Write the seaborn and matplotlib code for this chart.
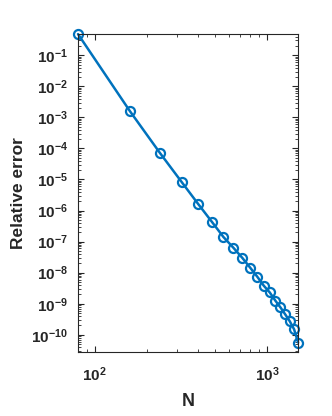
import numpy as np
import pandas as pd
import matplotlib
matplotlib.use("Agg")
import matplotlib.pyplot as plt
import seaborn as sns
from matplotlib.ticker import LogLocator, FuncFormatter, NullFormatter

# grid sizes and measured relative errors
N = [80, 160, 240, 320, 400, 480, 560, 640, 720, 800,
     880, 960, 1040, 1120, 1200, 1280, 1360, 1440, 1520]
rel_err = [4.8e-1, 1.6e-3, 7.0e-5, 8.3e-6, 1.6e-6, 4.3e-7, 1.4e-7, 6.3e-8, 3.0e-8, 1.45e-8,
           7.4e-9, 3.8e-9, 2.3e-9, 1.26e-9, 7.6e-10, 4.5e-10, 2.7e-10, 1.5e-10, 5.6e-11]

df = pd.DataFrame({"N": N, "err": rel_err})

sns.set_style("ticks")
plt.rcParams['font.family'] = ['Liberation Sans', 'DejaVu Sans']
plt.rcParams['mathtext.fontset'] = 'custom'
plt.rcParams['mathtext.rm'] = 'Liberation Sans:bold'
plt.rcParams['mathtext.bf'] = 'Liberation Sans:bold'
plt.rcParams['mathtext.default'] = 'bf'

fig = plt.figure(figsize=(3.32, 4.16), dpi=100)
ax = fig.add_axes([0.235, 0.154, 0.663, 0.764])

sns.lineplot(data=df, x="N", y="err", ax=ax, color="#0072BD", linewidth=1.8,
             marker="o", markersize=6.5, markerfacecolor="none",
             markeredgecolor="#0072BD", markeredgewidth=1.6, clip_on=False)

ax.set_xscale("log")
ax.set_yscale("log")
ax.set_xlim(80, 1520)
ax.set_ylim(2.8e-11, 0.48)


def pow10(v, pos):
    e = int(np.round(np.log10(v)))
    return r"$\mathbf{10^{%d}}$" % e


ax.xaxis.set_major_locator(LogLocator(base=10, numticks=10))
ax.yaxis.set_major_locator(LogLocator(base=10, numticks=20))
ax.xaxis.set_minor_locator(LogLocator(base=10, subs=np.arange(2, 10), numticks=20))
ax.yaxis.set_minor_locator(LogLocator(base=10, subs=np.arange(2, 10), numticks=40))
ax.xaxis.set_major_formatter(FuncFormatter(pow10))
ax.yaxis.set_major_formatter(FuncFormatter(pow10))
ax.xaxis.set_minor_formatter(NullFormatter())
ax.yaxis.set_minor_formatter(NullFormatter())

for s in ax.spines.values():
    s.set_color("#262626")
    s.set_linewidth(0.8)
ax.tick_params(which="both", direction="in", top=True, right=True, color="#262626")
ax.tick_params(which="major", length=4, width=0.8, labelsize=11, labelcolor="#262626", pad=7)
ax.tick_params(which="minor", length=2, width=0.6)
ax.tick_params(axis="x", which="major", pad=10)

ax.set_xlabel("N", fontsize=13, fontweight="bold", color="#262626", labelpad=6)
ax.set_ylabel("Relative error", fontsize=12.5, fontweight="bold", color="#262626", labelpad=4)

fig.savefig("out.png", dpi=100)
